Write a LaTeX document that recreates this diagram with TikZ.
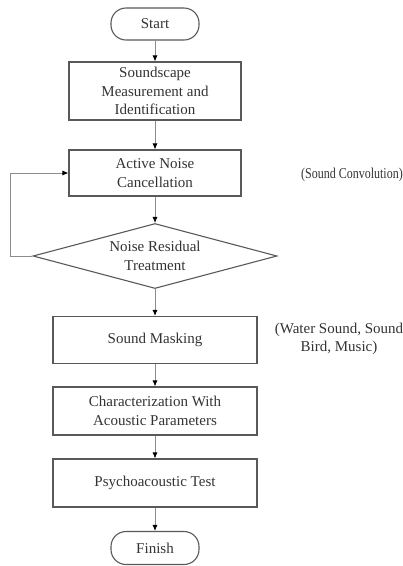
\documentclass[tikz,border=0pt]{standalone}
\usepackage{fontspec}
\setmainfont{Liberation Serif}
\newfontfamily\narrowserif[FakeStretch = 0.8]{Liberation Serif}
\usetikzlibrary{shapes}
\usetikzlibrary{arrows.meta}

\begin{document}
\begin{tikzpicture}[x = 1pt, y = -1pt,
	every node/.style = {font = \fontsize{15}{18.5}\selectfont,
						 text = black!80,
						 align = center},
	term/.style = {draw = black!65,
				   line width = 1.1pt,
				   rounded corners = 15pt,
				   minimum width = 88pt,
				   minimum height = 32pt},
	proc/.style = {draw = black!65,
				   line width = 1.1pt,
				   minimum width = 172pt},
	wide/.style = {proc,
				   minimum width = 204pt},
	flow/.style = {draw = black!45,
				   line width = 0.8pt,
				   -{Latex[length = 6pt, width = 5pt, color = black]}}]

	\useasboundingbox (0,0) rectangle (403,566);

	\draw (155,24) node[term](start){Start};
	\draw (155,91) node[proc,
						minimum height = 58pt](scape){Soundscape\\Measurement and\\Identification};
	\draw (155,173) node[proc,
						 minimum height = 46pt](anc){Active Noise\\Cancellation};
	\draw (155,256) node[draw = black!65,
						 line width = 1.1pt,
						 shape = diamond,
						 aspect = 3.75,
						 inner sep = 0pt,
						 minimum width = 244pt,
						 minimum height = 65pt](resid){Noise Residual\\Treatment};
	\draw (155,340) node[wide,
						 minimum height = 47pt](mask){Sound Masking};
	\draw (155,411) node[wide,
						 minimum height = 48pt](charac){Characterization With\\Acoustic Parameters};
	\draw (155,483) node[wide,
						 minimum height = 48pt](psycho){Psychoacoustic Test};
	\draw (155,548) node[term,
						 minimum height = 33pt](finish){Finish};

	\draw (352,175) node[font = \narrowserif\fontsize{15}{18.5}\selectfont](conv){(Sound Convolution)};
	\draw (339,339) node[](masknote){(Water Sound, Sound\\Bird, Music)};

	\draw[flow] (start) -- (scape);
	\draw[flow] (scape) -- (anc);
	\draw[flow] (anc) -- (resid);
	\draw[flow] (resid.west) -- ++(-22,0) |- (anc.west);
	\draw[flow] (resid) -- (mask);
	\draw[flow] (mask) -- (charac);
	\draw[flow] (charac) -- (psycho);
	\draw[flow] (psycho) -- (finish);

\end{tikzpicture}
\end{document}
